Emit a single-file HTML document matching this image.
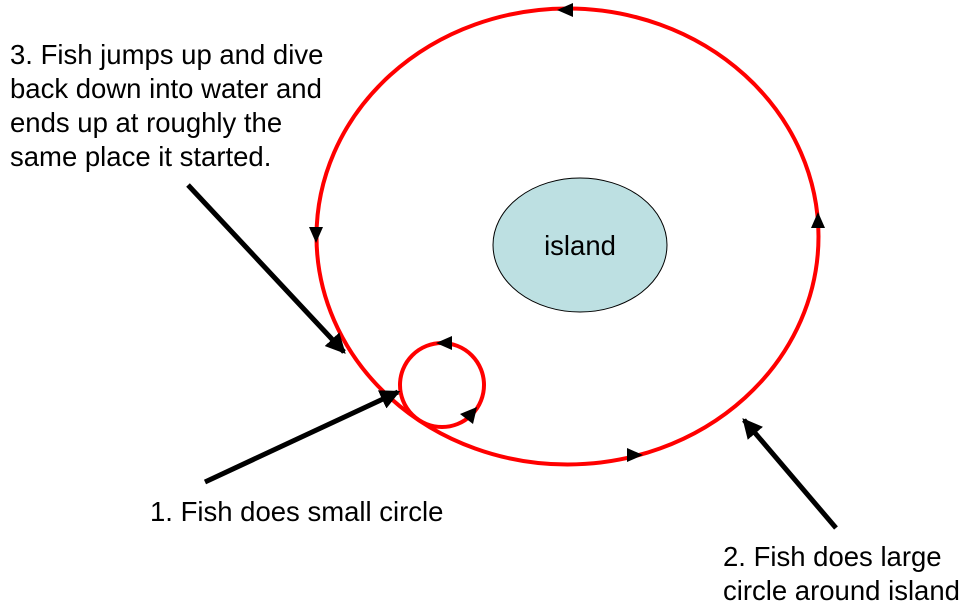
<!DOCTYPE html>
<html><head><meta charset="utf-8"><style>
html,body{margin:0;padding:0;background:#fff;width:976px;height:613px;overflow:hidden}
svg text{font-family:"Liberation Sans",Arial,sans-serif;font-size:27.5px;fill:#000}
</style></head><body>
<svg width="976" height="613" viewBox="0 0 976 613" xmlns="http://www.w3.org/2000/svg">
<defs>
<marker id="ah" markerWidth="4" markerHeight="4" refX="3.5" refY="2" orient="auto" markerUnits="strokeWidth">
<path d="M0,0 L4,2 L0,4 z" fill="#000"/></marker>
</defs>
<ellipse cx="567.5" cy="236.5" rx="251" ry="228" fill="none" stroke="#f00" stroke-width="4"/>
<ellipse cx="580" cy="245" rx="87" ry="67" fill="#bde0e2" stroke="#000" stroke-width="1"/>
<text x="580" y="255" text-anchor="middle">island</text>
<circle cx="442" cy="385" r="42" fill="none" stroke="#f00" stroke-width="4"/>
<g fill="#000">
<path d="M557,10 L573,3 L573,17 z"/>
<path d="M316,243 L309,227 L323,227 z"/>
<path d="M818,212 L811,228 L825,228 z"/>
<path d="M643,455 L627,448 L627,462 z"/>
<path d="M436,343 L452,336 L452,350 z"/>
<path d="M477,407 L473,424 L460,414 z"/>
</g>
<line x1="205" y1="482" x2="398" y2="392" stroke="#000" stroke-width="5" marker-end="url(#ah)"/>
<line x1="836" y1="528" x2="744" y2="420" stroke="#000" stroke-width="5" marker-end="url(#ah)"/>
<line x1="188" y1="185" x2="344" y2="352" stroke="#000" stroke-width="5" marker-end="url(#ah)"/>
<text x="10" y="64">3. Fish jumps up and dive</text>
<text x="10" y="98">back down into water and</text>
<text x="10" y="132">ends up at roughly the</text>
<text x="10" y="166">same place it started.</text>
<text x="150" y="521">1. Fish does small circle</text>
<text x="723" y="566">2. Fish does large</text>
<text x="723" y="600">circle around island</text>
</svg>
</body></html>
